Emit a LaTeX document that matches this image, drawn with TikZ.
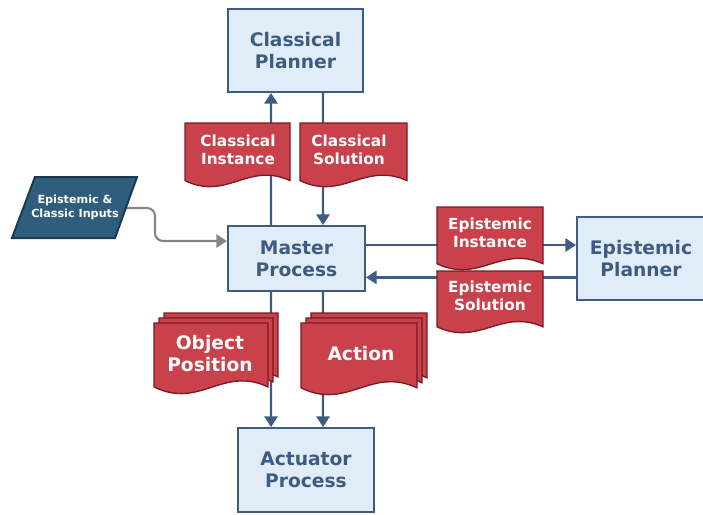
\documentclass[tikz,border=0pt]{standalone}
\usepackage{fontspec}
\setmainfont{DejaVu Sans}
\usetikzlibrary{arrows.meta}

\definecolor{boxblue}{HTML}{E1ECF9}
\definecolor{lineblue}{HTML}{3E5B82}
\definecolor{docred}{HTML}{C8414B}
\definecolor{docedge}{HTML}{7A1A22}
\definecolor{inputblue}{HTML}{2F5D7C}
\definecolor{inputedge}{HTML}{1A3A54}
\definecolor{feedgray}{HTML}{858585}

% page with a wavy lower edge: top left corner (#1,#2), width #3, height #4
\newcommand{\docpage}[4]{%
  \draw[docpaper] (#1,#2) -- (#1+#3,#2) -- (#1+#3,#2+0.9*#4)
    .. controls (#1+0.6*#3,#2+0.6*#4) and (#1+0.4*#3,#2+1.22*#4) .. (#1,#2+0.9*#4) -- cycle;}
% three pages stacked
\newcommand{\docstack}[4]{%
  \docpage{#1+10}{#2-10}{#3}{#4}%
  \docpage{#1+5}{#2-5}{#3}{#4}%
  \docpage{#1}{#2}{#3}{#4}}

\begin{document}
\begin{tikzpicture}[x=0.75pt, y=-0.75pt,
  box/.style={draw=lineblue, line width=1.5pt, fill=boxblue, text=lineblue,
    font=\bfseries\fontsize{14}{16.5}\selectfont, align=center, inner sep=0pt},
  link/.style={draw=lineblue, line width=1.6pt, -{Triangle[length=8pt,width=10pt]}},
  feed/.style={draw=feedgray, line width=1.6pt, rounded corners=6pt, -{Triangle[length=8pt,width=10pt]}},
  docpaper/.style={fill=docred, draw=docedge, line width=1pt},
  doclabel/.style={text=white, font=\bfseries\fontsize{11.5}{13.5}\selectfont, align=center, inner sep=0pt},
  biglabel/.style={doclabel, font=\bfseries\fontsize{14}{16.5}\selectfont}]
\useasboundingbox (0,0) rectangle (703,514);

% processes
\node at (295.5,50.5) (cplan) [box, minimum width=101.25pt, minimum height=62.25pt] {Classical\\Planner};
\node at (296.5,258.5) (master) [box, minimum width=102.75pt, minimum height=48.75pt] {Master\\Process};
\node at (641,258.5) (eplan) [box, minimum width=96pt, minimum height=62.25pt] {Epistemic\\Planner};
\node at (306,470) (act) [box, minimum width=102pt, minimum height=63pt] {Actuator\\Process};

% connectors
\draw [link] ([xshift=-19.1pt]master.north) -- ([xshift=-18.4pt]cplan.south);
\draw [link] ([xshift=20.6pt]cplan.south) -- ([xshift=19.9pt]master.north);
\draw [link] ([yshift=10.1pt]master.east) -- ([yshift=10.1pt]eplan.west);
\draw [link] ([yshift=-14.2pt]eplan.west) -- ([yshift=-14.2pt]master.east);
\draw [link] ([xshift=-19.1pt]master.south) -- ([xshift=-26.25pt]act.north);
\draw [link] ([xshift=19.9pt]master.south) -- ([xshift=12.75pt]act.north);

% data passed along the connectors
\docpage{185}{123}{105}{64}
\node at (238,150) (cinst) [doclabel] {Classical\\Instance};
\docpage{300}{123}{107}{64}
\node at (349,150) (csol) [doclabel] {Classical\\Solution};
\docpage{437}{207}{106}{63}
\node at (490,233) (einst) [doclabel] {Epistemic\\Instance};
\docpage{437}{271}{106}{62}
\node at (490,296) (esol) [doclabel] {Epistemic\\Solution};
\docstack{154}{323}{114}{71}
\node at (210,354) (objpos) [biglabel] {Object\\Position};
\docstack{301}{323}{116}{72}
\node at (361,354) (action) [biglabel] {Action};

% inputs
\coordinate (inputs out) at (126,208);
\draw [feed] (inputs out) -- (155,208) -- (155,241) -- ([yshift=13.1pt]master.west);
\draw [fill=inputblue, draw=inputedge, line width=1.5pt] (35,177) -- (137,177) -- (115,238) -- (12,238) -- cycle;
\node at (75,207.5) (inputs) [text=white, font=\bfseries\fontsize{8.4}{10.5}\selectfont, align=center, inner sep=0pt] {Epistemic \&\\Classic Inputs};
\end{tikzpicture}
\end{document}
